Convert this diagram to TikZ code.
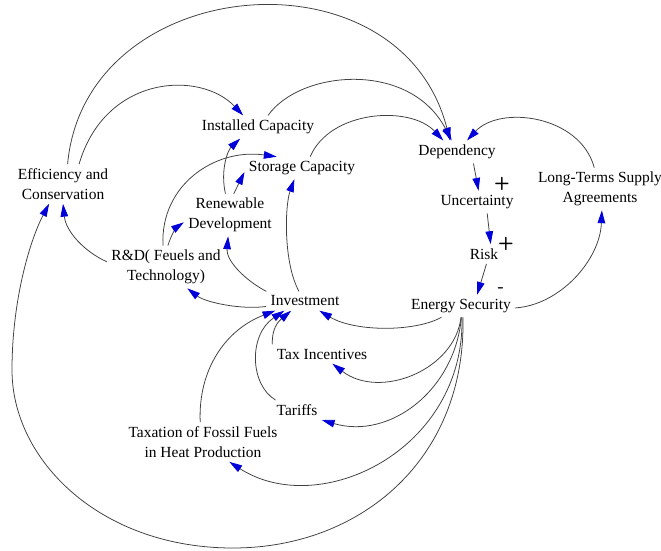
\documentclass[tikz,border=0pt]{standalone}
\usepackage{fontspec}
\setmainfont{Liberation Serif}
\newfontfamily\varfont{Liberation Serif}
\usetikzlibrary{arrows.meta}
\tikzset{
  var/.style={draw=none, inner sep=3pt, align=center, font=\varfont\fontsize{11}{14}\selectfont},
  link/.style={draw=black!75, line width=0.55pt, -{Triangle[length=3.2mm,width=1.9mm,color=blue!85!black]}},
  sign/.style={inner sep=0pt, font=\sffamily\bfseries\fontsize{13}{13}\selectfont}
}
\begin{document}
\begin{tikzpicture}[x=0.25mm, y=-0.25mm]
\useasboundingbox (0,0) rectangle (661,550);
\node[var](efficiency) at (63,184) {Efficiency and\\Conservation};
\node[var](installedCap) at (258,127) {Installed Capacity};
\node[var](storageCap) at (302,168) {Storage Capacity};
\node[var](renewableDev) at (230,215) {Renewable\\Development};
\node[var](rAndD) at (166,267) {R\&D( Feuels and\\Technology)};
\node[var](investment) at (305,301) {Investment};
\node[var](dependency) at (457,152) {Dependency};
\node[var](uncertainty) at (477,202) {Uncertainty};
\node[var](risk) at (484,254) {Risk};
\node[var](energySec) at (461,306) {Energy Security};
\node[var](longTerm) at (600,189) {Long-Terms Supply\\Agreements};
\node[var](taxIncentives) at (322,354) {Tax Incentives};
\node[var](tariffs) at (297,410) {Tariffs};
\node[var](taxFossil) at (203,442) {Taxation of Fossil Fuels\\in Heat Production};

\node[sign](plusUnc) at (502,184) {+};
\node[sign](plusRisk) at (506,244) {+};
\node[sign](minusSec) at (501,290) {-};

\draw[link] (efficiency.77) .. controls (85,-28) and (400,-55) .. (dependency.121);
\draw[link] (efficiency.51) .. controls (105,75) and (200,70) .. (installedCap.142);
\draw[link] (installedCap.49) .. controls (300,70) and (410,60) .. (dependency.115);
\draw[link] (storageCap.54) .. controls (330,110) and (410,105) .. (dependency.140);
\draw[link] (longTerm.105) .. controls (580,115) and (500,105) .. (dependency.49);
\draw[link] (dependency.-35) -- (uncertainty.82);
\draw[link] (uncertainty.-48) -- (risk.56);
\draw[link] (risk.-76) -- (energySec.35);
\draw[link] (energySec.-2) .. controls (560,305) and (600,260) .. (longTerm.-85);

\draw[link] (energySec.-150) .. controls (415,332) and (355,332) .. (investment.-34);
\draw[link] (energySec.-90) .. controls (455,370) and (380,400) .. (taxIncentives.-43);
\draw[link] (energySec.-88) .. controls (455,390) and (390,440) .. (tariffs.-22);
\draw[link] (energySec.-85) .. controls (465,450) and (320,520) .. (taxFossil.-37);
\draw[link] (energySec.-80) .. controls (466,460) and (360,548) .. (233,548)
  .. controls (100,548) and (12,460) .. (12,370)
  .. controls (12,300) and (30,240) .. (efficiency.-125);

\draw[link] (taxIncentives.169) .. controls (272,335) and (274,325) .. (investment.-145);
\draw[link] (tariffs.155) .. controls (250,385) and (248,335) .. (investment.-155);
\draw[link] (taxFossil.98) .. controls (198,370) and (225,330) .. (investment.-162);

\draw[link] (investment.-172) .. controls (240,310) and (205,302) .. (rAndD.-45);
\draw[link] (investment.166) .. controls (248,282) and (226,262) .. (renewableDev.-95);
\draw[link] (investment.122) .. controls (283,262) and (285,205) .. (storageCap.-124);

\draw[link] (rAndD.175) .. controls (85,252) and (66,232) .. (efficiency.-90);
\draw[link] (rAndD.85) .. controls (171,235) and (177,227) .. (renewableDev.-171);
\draw[link] (rAndD.98) .. controls (160,185) and (215,148) .. (storageCap.156);
\draw[link] (renewableDev.102) .. controls (220,170) and (228,150) .. (installedCap.-147);
\draw[link] (renewableDev.80) -- (storageCap.-176);
\end{tikzpicture}
\end{document}
